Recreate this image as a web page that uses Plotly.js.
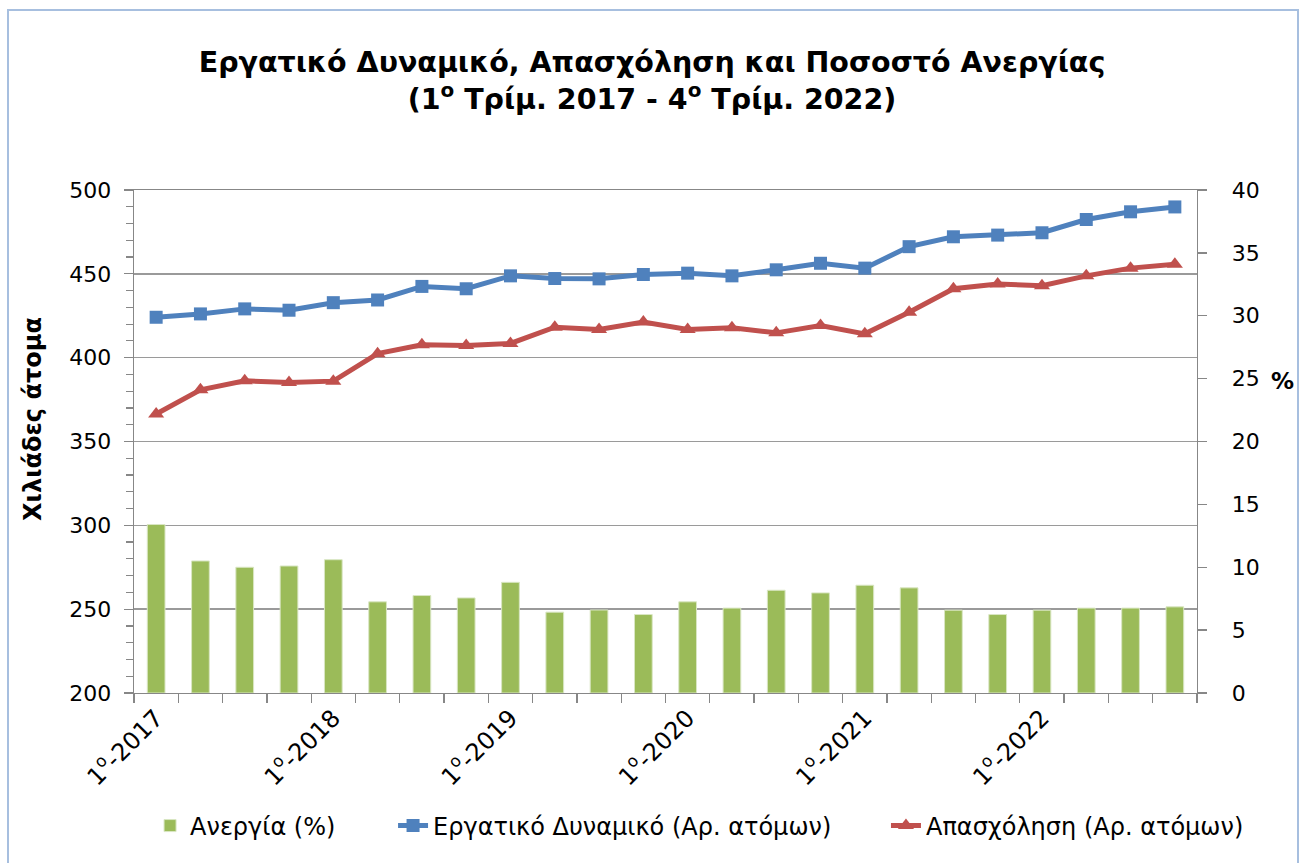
<!DOCTYPE html>
<html>
<head>
<meta charset="utf-8">
<script src="https://cdn.plot.ly/plotly-3.0.1.min.js"></script>
<style>
  html, body { margin: 0; padding: 0; background: #ffffff; }
  #wrap { position: relative; width: 1304px; height: 863px; overflow: hidden; }
  #chart { position: absolute; left: 0; top: 0; width: 1304px; height: 863px; }
  #frame { position: absolute; left: 7px; top: 9px; width: 1288px; height: 900px;
           border: 2px solid #a7bfdf; pointer-events: none; }
</style>
</head>
<body>
<div id="wrap">
  <div id="chart"></div>
  <div id="frame"></div>
</div>
<script>
// Quarters 1st 2017 .. 4th 2022
var quarters = [
  "1ο-2017","2ο-2017","3ο-2017","4ο-2017",
  "1ο-2018","2ο-2018","3ο-2018","4ο-2018",
  "1ο-2019","2ο-2019","3ο-2019","4ο-2019",
  "1ο-2020","2ο-2020","3ο-2020","4ο-2020",
  "1ο-2021","2ο-2021","3ο-2021","4ο-2021",
  "1ο-2022","2ο-2022","3ο-2022","4ο-2022"
];
var tickLabels = [
  "1<sup>ο</sup>-2017","","","",
  "1<sup>ο</sup>-2018","","","",
  "1<sup>ο</sup>-2019","","","",
  "1<sup>ο</sup>-2020","","","",
  "1<sup>ο</sup>-2021","","","",
  "1<sup>ο</sup>-2022","","",""
];
// Unemployment rate (%), right axis
var unemployment = [13.4, 10.5, 10.0, 10.1, 10.6, 7.25, 7.75, 7.56, 8.8, 6.43, 6.6, 6.24,
                    7.25, 6.75, 8.17, 7.96, 8.57, 8.36, 6.59, 6.24, 6.59, 6.75, 6.75, 6.85];
// Labour force (thousands), left axis
var labourForce = [424.1, 426.1, 429.1, 428.3, 432.8, 434.4, 442.5, 441.1, 448.8, 447.2, 447.0, 449.6,
                   450.4, 448.8, 452.4, 456.3, 453.4, 466.2, 472.1, 473.1, 474.5, 482.4, 487.0, 489.9];
// Employment (thousands), left axis
var employment = [366.4, 380.8, 386.2, 385.2, 386.0, 402.4, 407.7, 407.3, 408.5, 418.2, 416.8, 421.2,
                  416.8, 417.8, 414.8, 419.2, 414.2, 427.1, 441.1, 443.9, 442.9, 448.8, 453.4, 455.7];

var seriesNames = ["Ανεργία (%)", "Εργατικό Δυναμικό (Αρ. ατόμων)", "Απασχόληση (Αρ. ατόμων)"];

var FONT = "DejaVu Sans, Verdana, sans-serif";
var AXIS_GRAY = "#878787";

var traces = [
  {
    type: "bar", name: seriesNames[0], x: quarters, y: unemployment,
    yaxis: "y", width: 0.4, legend: "legend",
    marker: { color: "#9bbb59", line: { color: "#d9e6c3", width: 1 } },
    hoverinfo: "x+y"
  },
  {
    type: "scatter", mode: "lines+markers", name: seriesNames[1], x: quarters, y: labourForce,
    yaxis: "y2", legend: "legend2",
    line: { color: "#4f81bd", width: 5 },
    marker: { symbol: "square", size: 13, color: "#4f81bd" }
  },
  {
    type: "scatter", mode: "lines+markers", name: seriesNames[2], x: quarters, y: employment,
    yaxis: "y2", legend: "legend3",
    line: { color: "#c0504d", width: 5 },
    marker: { symbol: "triangle-up", size: 14, color: "#c0504d" }
  }
];

function legendAt(xPaper) {
  return {
    orientation: "h",
    x: xPaper, xanchor: "left",
    y: -0.2644, yanchor: "middle",
    font: { family: FONT, size: 24, color: "#000000" },
    bgcolor: "rgba(0,0,0,0)",
    itemwidth: 30
  };
}

var layout = {
  width: 1304, height: 863,
  margin: { l: 134, r: 107, t: 190, b: 170, pad: 0 },
  paper_bgcolor: "#ffffff", plot_bgcolor: "#ffffff",
  font: { family: FONT, size: 22, color: "#000000" },
  showlegend: true,
  title: {
    text: "<b>Εργατικό Δυναμικό, Απασχόληση και Ποσοστό Ανεργίας<br>(1<sup>ο</sup> Τρίμ. 2017 - 4<sup>ο</sup> Τρίμ. 2022)</b>",
    font: { family: FONT, size: 28.5, color: "#000000" },
    xref: "container", x: 0.5, xanchor: "center",
    yref: "container", y: 0.917, yanchor: "middle"
  },
  xaxis: {
    type: "category",
    tickmode: "array", tickvals: quarters, ticktext: tickLabels,
    tickson: "boundaries",
    ticks: "outside", ticklen: 9, tickcolor: AXIS_GRAY, tickwidth: 1.3,
    tickangle: -45,
    tickfont: { family: FONT, size: 24, color: "#000000" },
    showline: true, linecolor: AXIS_GRAY, linewidth: 1.3,
    mirror: true,
    showgrid: false, zeroline: false,
    range: [-0.5, 23.5]
  },
  yaxis: {
    side: "right",
    range: [0, 40], dtick: 5, tick0: 0,
    ticks: "outside", ticklen: 9, tickcolor: AXIS_GRAY, tickwidth: 1.3,
    ticklabelstandoff: 20,
    tickfont: { family: FONT, size: 22, color: "#000000" },
    showline: true, linecolor: AXIS_GRAY, linewidth: 1.3,
    showgrid: false, zeroline: false
  },
  yaxis2: {
    overlaying: "y", side: "left",
    range: [200, 500], dtick: 50, tick0: 0,
    ticks: "outside", ticklen: 9, tickcolor: AXIS_GRAY, tickwidth: 1.3,
    ticklabelstandoff: 8,
    minor: { dtick: 10, tick0: 0, ticks: "outside", ticklen: 7, tickcolor: AXIS_GRAY, tickwidth: 1.2, showgrid: false },
    tickfont: { family: FONT, size: 22, color: "#000000" },
    showline: true, linecolor: AXIS_GRAY, linewidth: 1.3,
    showgrid: true, gridcolor: "#9a9a9a", gridwidth: 1.4,
    zeroline: false
  },
  legend: legendAt(0.0151),
  legend2: legendAt(0.2437),
  legend3: legendAt(0.7074),
  annotations: [
    {
      text: "<b>Χιλιάδες άτομα</b>", textangle: -90,
      xref: "paper", yref: "paper",
      x: -0.095, y: 0.545, xanchor: "center", yanchor: "middle",
      showarrow: false,
      font: { family: FONT, size: 24, color: "#000000" }
    },
    {
      text: "<b>%</b>",
      xref: "paper", yref: "paper",
      x: 1.08, y: 0.62, xanchor: "center", yanchor: "middle",
      showarrow: false,
      font: { family: FONT, size: 23, color: "#000000" }
    }
  ],
  bargap: 0.6
};

Plotly.newPlot("chart", traces, layout, { displayModeBar: false, staticPlot: true });
</script>
</body>
</html>
